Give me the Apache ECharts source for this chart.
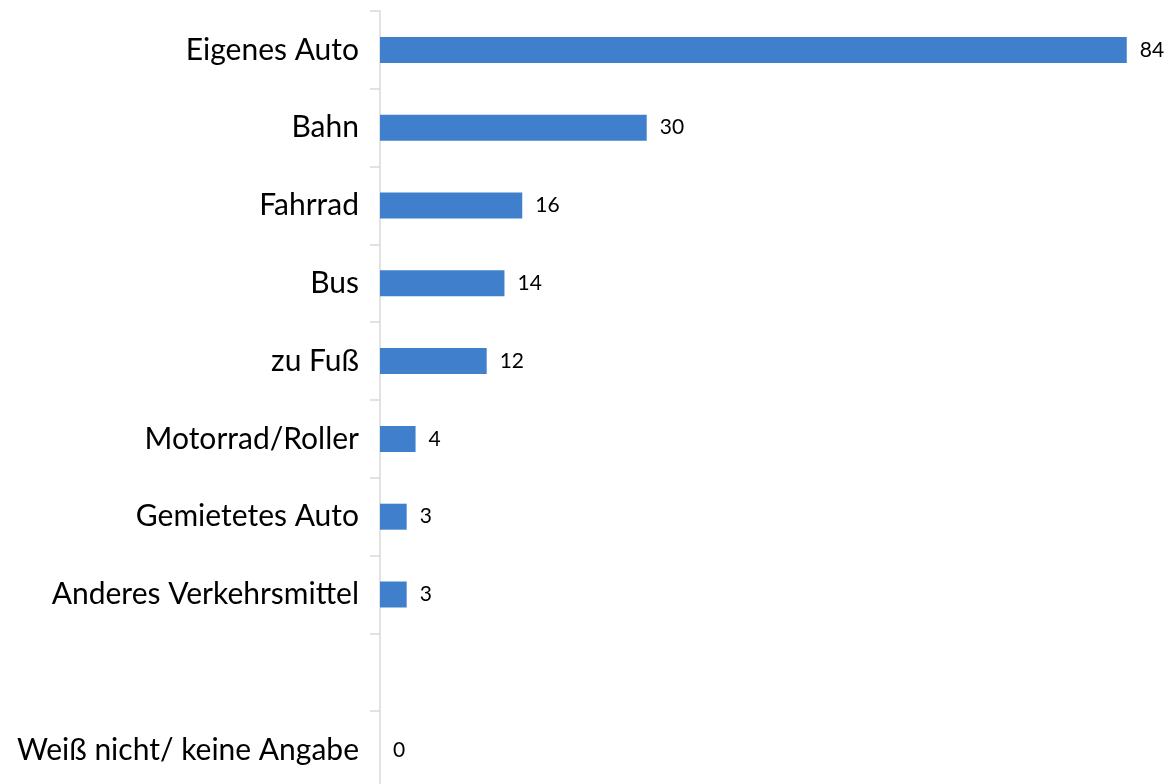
<!DOCTYPE html>
<html>
<head>
<meta charset="utf-8">
<script src="https://cdn.jsdelivr.net/npm/echarts@6/dist/echarts.min.js"></script>
<style>
	html, body { margin: 0; padding: 0; background: #fff; overflow: hidden; }
	#chartBar { width: 1173px; height: 790px; }
</style>
</head>
<body>
<div id="chartBar"></div>
<script>
// categories top to bottom, as in the picture
var categories = ['Eigenes Auto', 'Bahn', 'Fahrrad', 'Bus', 'zu Fuß', 'Motorrad/Roller',
	'Gemietetes Auto', 'Anderes Verkehrsmittel', '', 'Weiß nicht/ keine Angabe'];
var values = [84, 30, 16, 14, 12, 4, 3, 3, null, 0];

drawBar();
function drawBar(){
	var myChart = echarts.init(document.getElementById('chartBar'));
	var option = {
		animation: false,
		grid: {
			top: 11,
			left: 380,
			right: 0,
			bottom: 1,
			containLabel: false
		},
		xAxis: {
			type: 'value',
			min: 0,
			max: 89.2,
			show: false
		},
		yAxis: {
			type: 'category',
			inverse: true,
			data: categories,
			axisLine: {
				show: true,
				lineStyle: { color: '#d9d9d9', width: 1.5 }
			},
			axisTick: {
				show: true,
				length: 10,
				lineStyle: { color: '#d9d9d9', width: 1.5 }
			},
			axisLabel: {
				margin: 21,
				color: '#000',
				fontSize: 30,
				fontFamily: 'Lato'
			}
		},
		series: [
			{
				type: 'bar',
				barWidth: 26,
				itemStyle: {
					color: '#3f7fcb'
				},
				label: {
					show: true,
					position: 'right',
					distance: 13,
					color: '#000',
					fontSize: 21,
					fontFamily: 'Lato',
					formatter: function (p) { return p.value == null ? '' : p.value; }
				},
				data: values
			}
		]
	};
	myChart.setOption(option);
	window.addEventListener('resize', function() {
		myChart.resize();
	});
}
</script>
</body>
</html>
